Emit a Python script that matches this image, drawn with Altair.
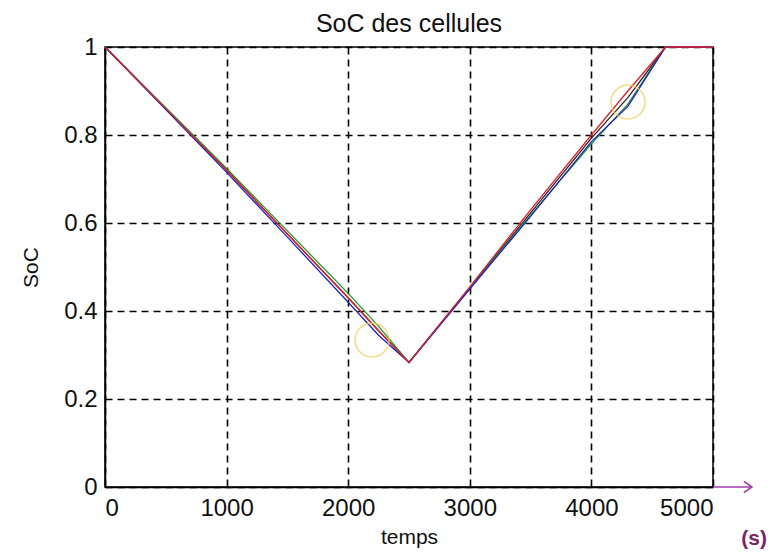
import altair as alt
import pandas as pd

# time samples (s)
temps = [0, 500, 1000, 1500, 2000, 2250, 2500, 3000, 3500, 4000, 4300, 4610, 5000]

soc_black = [1.0, 0.86, 0.72, 0.575, 0.43, 0.355, 0.283, 0.453, 0.623, 0.793, 0.885, 1.0, 1.0]
soc_red   = [1.0, 0.86, 0.72, 0.575, 0.43, 0.355, 0.283, 0.455, 0.630, 0.800, 0.900, 1.0, 1.0]
soc_blue  = [1.0, 0.858, 0.715, 0.568, 0.42, 0.345, 0.283, 0.450, 0.615, 0.785, 0.865, 1.0, 1.0]
soc_green = [1.0, 0.862, 0.724, 0.582, 0.44, 0.365, 0.283, 0.452, 0.618, 0.780, 0.870, 1.0, 1.0]

series_names = ["k", "g", "b", "r"]
series_colors = ["#3a1f1f", "#1f9a2a", "#2020d0", "#e0202a"]
series_values = [soc_black, soc_green, soc_blue, soc_red]

# highlighted points (yellow circles)
circle_t = [2196, 4301]
circle_soc = [0.334, 0.875]

# unit arrow along the x axis
arrow_t = [5000, 5320]

rows = []
for name, vals in zip(series_names, series_values):
    for t, v in zip(temps, vals):
        rows.append({"serie": name, "temps": t, "soc": v})
df = pd.DataFrame(rows)

circles = pd.DataFrame({"temps": circle_t, "soc": circle_soc})

FONT = "Liberation Sans"

x_enc = alt.X("temps:Q", scale=alt.Scale(domain=[0, 5000], nice=False),
              axis=alt.Axis(title="temps", values=[0, 1000, 2000, 3000, 4000, 5000],
                            format="d", grid=True, ticks=False, labelPadding=9,
                            titlePadding=6))
y_enc = alt.Y("soc:Q", scale=alt.Scale(domain=[0, 1], nice=False),
              axis=alt.Axis(title="SoC", values=[0, 0.2, 0.4, 0.6, 0.8, 1],
                            format="~g", grid=True, ticks=False, labelPadding=8,
                            titlePadding=22))

lines = alt.Chart(df).mark_line(strokeWidth=1.3).encode(
    x=x_enc,
    y=y_enc,
    color=alt.Color("serie:N", scale=alt.Scale(domain=series_names, range=series_colors),
                    legend=None),
    detail="serie:N",
)

rings = alt.Chart(circles).mark_point(
    shape="circle", filled=False, size=1150, color="#f2cf5a", strokeWidth=1.6
).encode(x="temps:Q", y="soc:Q")

arrow_line = alt.Chart(pd.DataFrame({"t0": [arrow_t[0]], "t1": [arrow_t[1]], "y": [0]})).mark_rule(
    color="#a03ca8", strokeWidth=1.6, clip=False
).encode(x="t0:Q", x2="t1:Q", y="y:Q")

arrow_head = alt.Chart(pd.DataFrame({"t": [arrow_t[1]], "y": [0]})).mark_point(
    shape="M-1,-0.7L0,0L-1,0.7", filled=False, size=260, color="#a03ca8",
    strokeWidth=1.6, clip=False, opacity=1
).encode(x="t:Q", y="y:Q")

unit = alt.Chart(pd.DataFrame({"t": [arrow_t[1]], "y": [0], "label": ["(s)"]})).mark_text(
    font=FONT, fontSize=21, fontWeight="bold", color="#7a2466", align="right",
    dy=52, dx=15, clip=False
).encode(x="t:Q", y="y:Q", text="label:N")

chart = alt.layer(lines, rings, arrow_line, arrow_head, unit).properties(
    width=608,
    height=440,
    title=alt.TitleParams("SoC des cellules", fontSize=25, fontWeight="normal",
                          font=FONT, color="#111111", offset=-2),
    autosize=alt.AutoSizeParams(type="none"),
    padding={"left": 97, "top": 39, "right": 56, "bottom": 65},
).configure_view(
    stroke="#000000", strokeWidth=1.5
).configure_axis(
    labelFont=FONT, titleFont=FONT, labelFontSize=24, titleFontSize=21,
    labelColor="#111111", titleColor="#111111", titleFontWeight="normal",
    gridColor="#000000", gridDash=[7, 5], gridWidth=1.6, gridOpacity=1,
    domainColor="#000000", domainWidth=1.5,
).configure_axisY(labelAngle=0)

chart.save("out.html", embed_options={"renderer": "svg", "actions": False})
